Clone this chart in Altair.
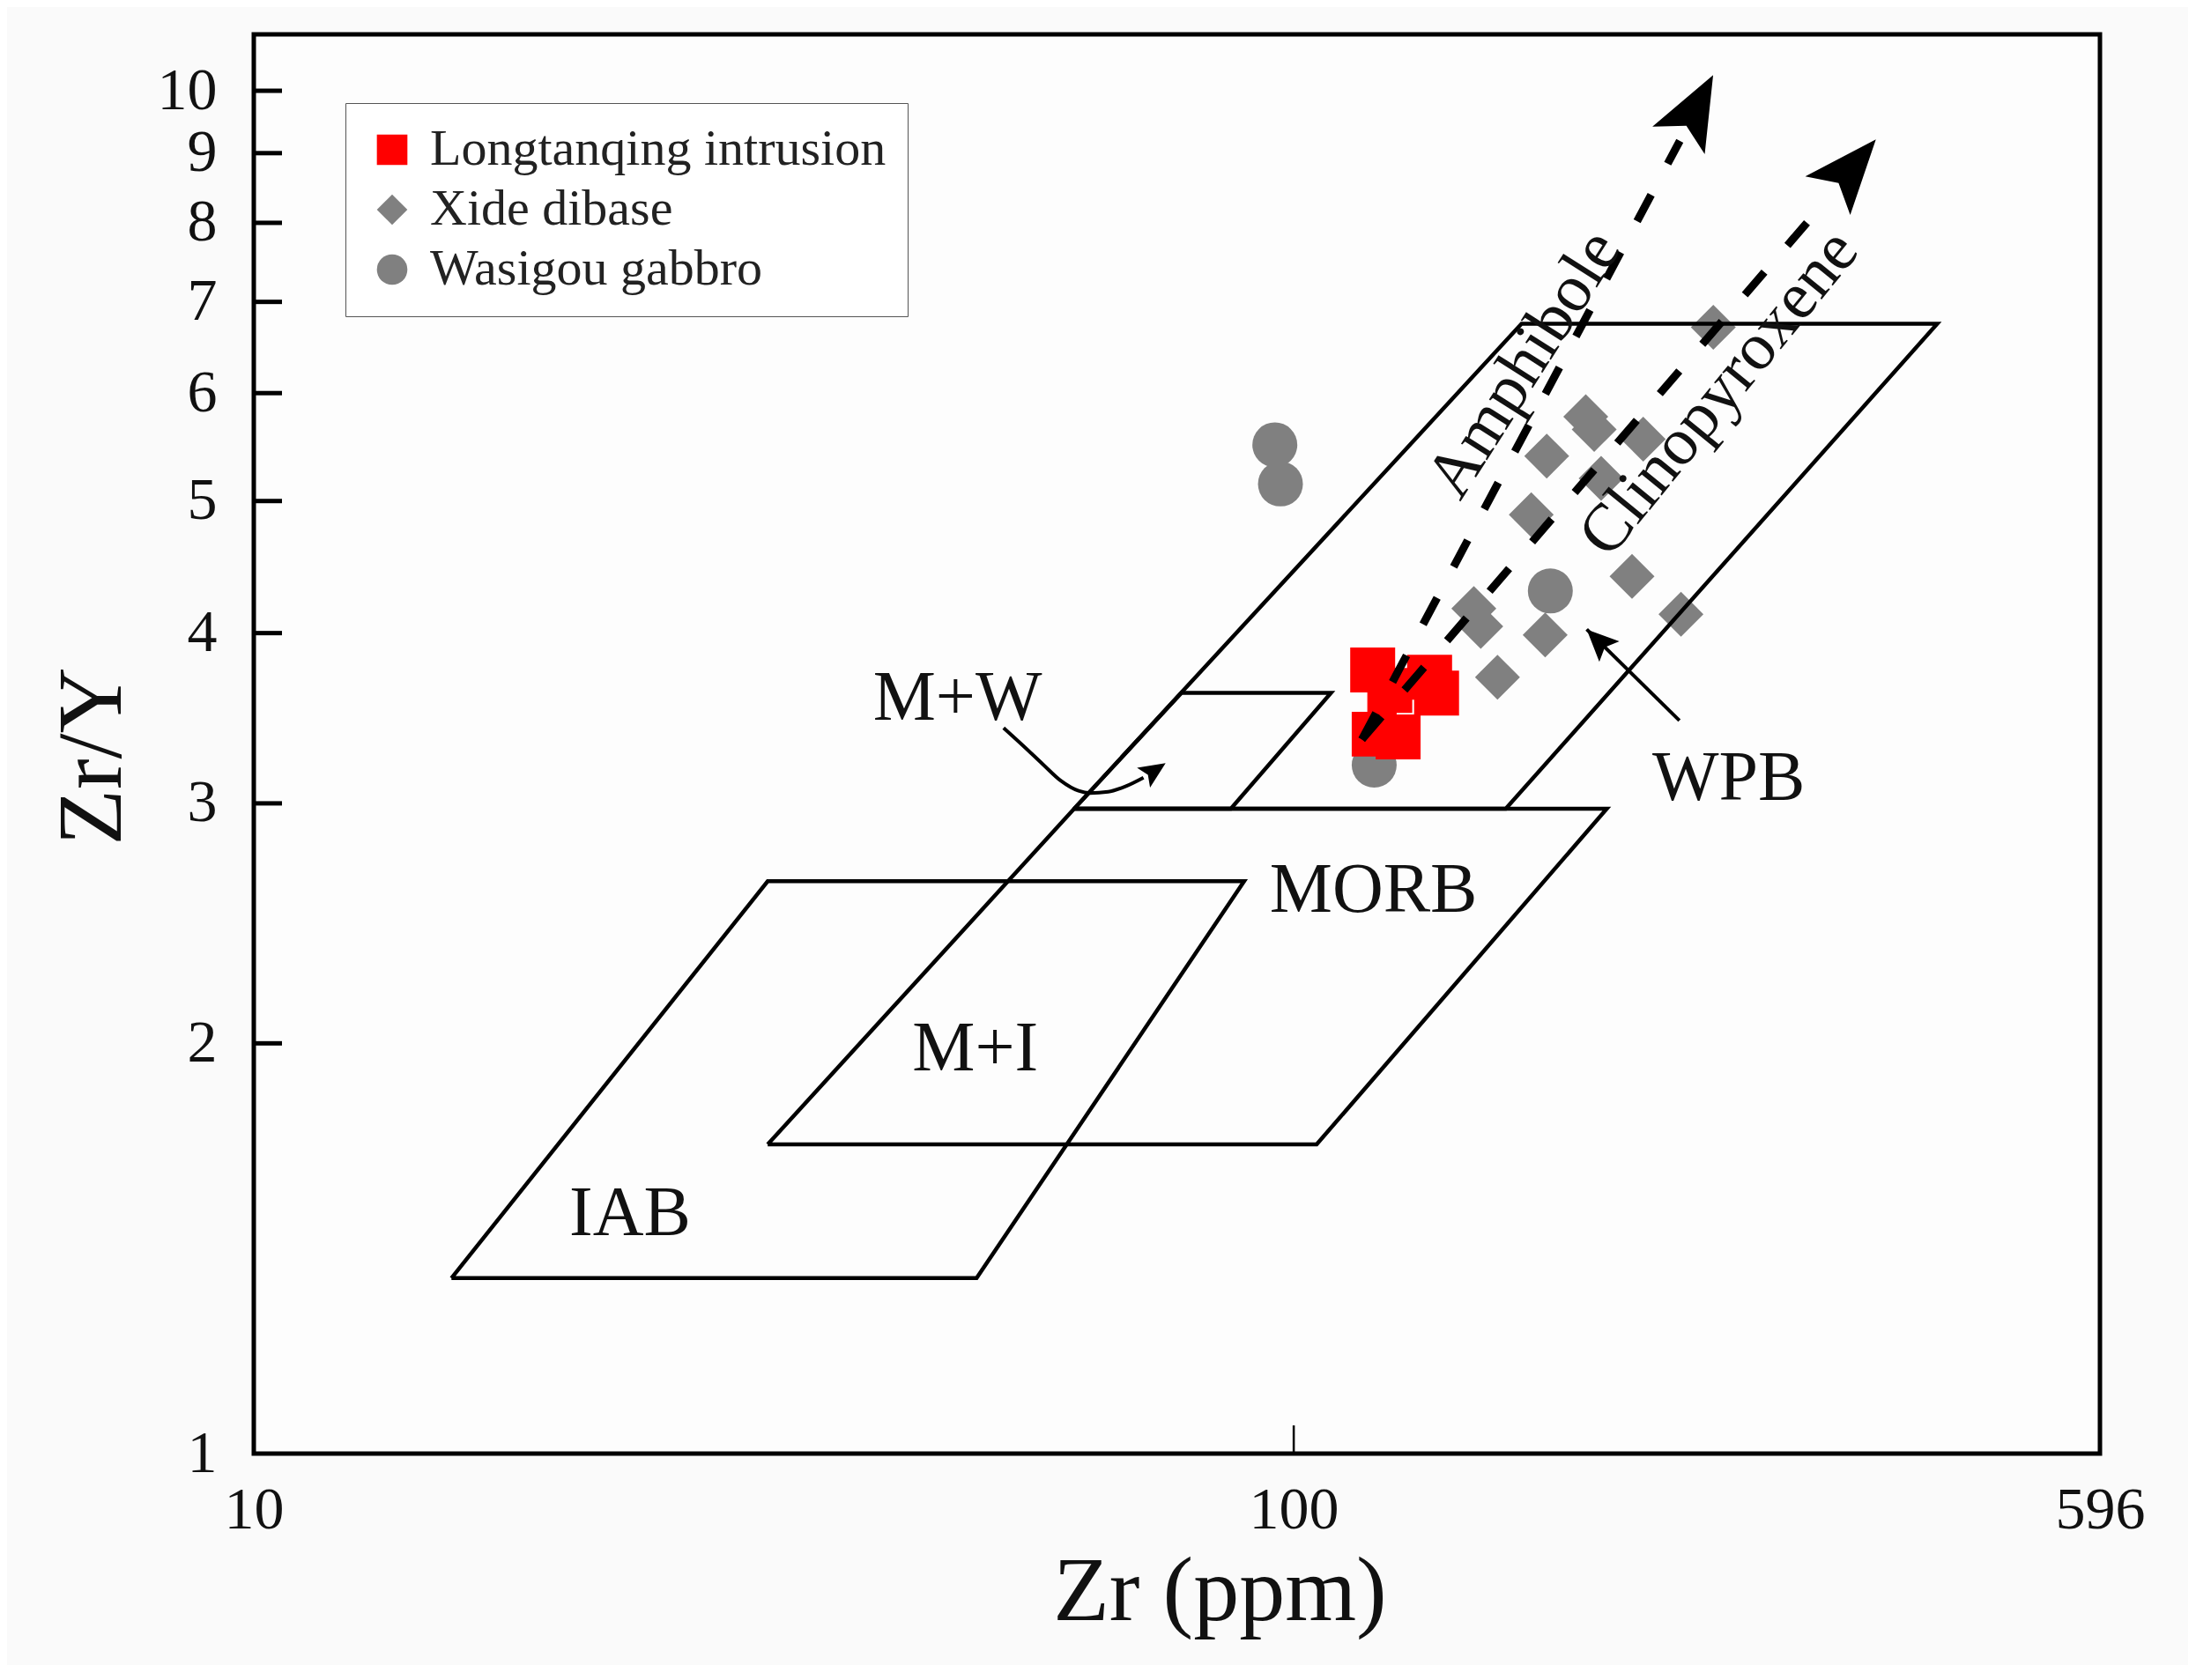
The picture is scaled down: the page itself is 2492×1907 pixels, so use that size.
import math
import altair as alt
import pandas as pd

# ---------------- data ----------------
groups = ["Longtanqing intrusion", "Xide dibase", "Wasigou gabbro"]
group_colors = ["#ff0000", "#808080", "#808080"]
group_shapes = ["square", "diamond", "circle"]

longtanqing_zr = [119.1, 123.7, 135.1, 137.2, 119.5, 126.0]
longtanqing_zry = [3.758, 3.631, 3.713, 3.614, 3.372, 3.356]

xide_zr = [253.2, 190.9, 194.5, 216.8, 175.1, 197.5, 169.2, 211.5, 235.7, 149.0, 151.3, 174.5, 157.0]
xide_zry = [6.706, 5.765, 5.643, 5.551, 5.395, 5.195, 4.886, 4.403, 4.130, 4.170, 4.045, 3.988, 3.713]

wasigou_zr = [95.9, 97.1, 176.5, 119.5]
wasigou_zry = [5.498, 5.146, 4.295, 3.200]

# discrimination fields (Pearce & Norry) - vertices
iab_zr = [15.49, 49.55, 89.6, 31.2]
iab_zry = [1.345, 1.345, 2.630, 2.630]
morb_zr = [31.2, 105.2, 200.0, 61.5]
morb_zry = [1.686, 1.686, 2.973, 2.973]
wpb_zr = [61.5, 159.9, 415.7, 165.6]
wpb_zry = [2.973, 2.973, 6.745, 6.745]
mw_zr = [61.5, 87.0, 108.6, 78.0]
mw_zry = [2.973, 2.973, 3.616, 3.616]

field_labels = ["M+W", "M+I", "IAB", "MORB", "WPB"]
field_label_zr = [47.5, 49.4, 23.0, 119.3, 261.9]
field_label_zry = [3.455, 1.910, 1.447, 2.496, 3.018]

# fractionation trends
trend_names = ["Amphibole", "Clinopyroxene"]
trend_start_zr = [116.3, 116.3]
trend_start_zry = [3.342, 3.342]
trend_end_zr = [235.1, 326.9]
trend_end_zry = [9.19, 8.35]
trend_tip_zr = [253.1, 362.9]
trend_tip_zry = [10.27, 9.21]
trend_label_zr = [166.5, 256.4]
trend_label_zry = [6.30, 6.00]

# M+W curved pointer
mw_curve_zr = [52.6, 54.9, 57.4, 59.7, 62.1, 63.7, 66.3, 68.9, 71.7]
mw_curve_zry = [3.408, 3.308, 3.204, 3.117, 3.064, 3.053, 3.059, 3.087, 3.133]
mw_tip_zr = [75.3]
mw_tip_zry = [3.211]

# WPB pointer
wpb_ptr_start_zr = [234.9]
wpb_ptr_start_zry = [3.451]
wpb_ptr_tip_zr = [191.3]
wpb_ptr_tip_zry = [4.025]

x_ticks = [10, 100, 596]
y_ticks = [1, 2, 3, 4, 5, 6, 7, 8, 9, 10]
X_DOMAIN = [10, 596]
Y_DOMAIN = [1, 11]

# ---------------- layout ----------------
W, H = 2095, 1611
FONT = "Liberation Serif"
INK = "#111111"


def screen_angle(x1, y1, x2, y2):
    dx = math.log10(x2 / x1) / math.log10(X_DOMAIN[1] / X_DOMAIN[0]) * W
    dy_up = math.log10(y2 / y1) / math.log10(Y_DOMAIN[1] / Y_DOMAIN[0]) * H
    return math.degrees(math.atan2(dx, dy_up)) % 360


xs = alt.Scale(type="log", domain=X_DOMAIN, nice=False, zero=False)
ys = alt.Scale(type="log", domain=Y_DOMAIN, nice=False, zero=False)

x_axis = alt.Axis(
    values=x_ticks, format="d", title="Zr (ppm)", labelPadding=30,
    labelFlush=False, labelOverlap=False, titleX=1096, titleY=188,
    titleBaseline="alphabetic", titleAlign="center")
y_axis = alt.Axis(
    values=y_ticks, format="d", title="Zr/Y", labelPadding=42,
    labelOverlap=False, titleAngle=270, titleX=-152, titleY=819,
    titleBaseline="alphabetic", titleAlign="center")


def X(field):
    return alt.X(field, scale=xs, axis=x_axis, title="Zr (ppm)")


def Y(field):
    return alt.Y(field, scale=ys, axis=y_axis, title="Zr/Y")


# points table
rows = []
for g, zr, zry in [(groups[2], wasigou_zr, wasigou_zry),
                   (groups[1], xide_zr, xide_zry),
                   (groups[0], longtanqing_zr, longtanqing_zry)]:
    for a, b in zip(zr, zry):
        rows.append({"group": g, "zr": a, "zry": b})
pts = pd.DataFrame(rows)

legend = alt.Legend(
    title=None, orient="none", legendX=104, legendY=78, direction="vertical",
    labelFont=FONT, labelFontSize=58, labelColor="#222222", labelLimit=900,
    symbolSize=1200, symbolStrokeWidth=0, labelOffset=14,
    padding=24, rowPadding=10, strokeColor="#555555", fillColor="#ffffff",
)

points = alt.Chart(pts).mark_point(filled=True, size=2600, opacity=1, strokeWidth=0).encode(
    x=X("zr:Q"),
    y=Y("zry:Q"),
    color=alt.Color("group:N", scale=alt.Scale(domain=groups, range=group_colors), legend=legend),
    shape=alt.Shape("group:N", scale=alt.Scale(domain=groups, range=group_shapes), legend=legend),
)

# polygons
prow = []
for name, zr, zry in [("IAB", iab_zr, iab_zry), ("MORB", morb_zr, morb_zry),
                      ("WPB", wpb_zr, wpb_zry), ("M+W", mw_zr, mw_zry)]:
    for i, (a, b) in enumerate(list(zip(zr, zry)) + [(zr[0], zry[0])]):
        prow.append({"field": name, "idx": i, "zr": a, "zry": b})
poly_df = pd.DataFrame(prow)

polys = alt.Chart(poly_df).mark_line(color="black", strokeWidth=4.5, strokeJoin="miter").encode(
    x=X("zr:Q"), y=Y("zry:Q"), detail="field:N", order="idx:Q",
)

# inward ticks
ytick = alt.Chart(pd.DataFrame({"v": y_ticks[1:]})).mark_rule(color="black", strokeWidth=5).encode(
    y=Y("v:Q"), x=alt.value(0), x2=alt.value(32))
xtick = alt.Chart(pd.DataFrame({"v": [100]})).mark_rule(color="black", strokeWidth=2.5).encode(
    x=X("v:Q"), y=alt.value(H), y2=alt.value(H - 32))

# trends
trend_df = pd.DataFrame({
    "name": trend_names,
    "x1": trend_start_zr, "y1": trend_start_zry,
    "x2": trend_end_zr, "y2": trend_end_zry,
    "tx": trend_tip_zr, "ty": trend_tip_zry,
    "ang": [screen_angle(a, b, c, d) for a, b, c, d in
            zip(trend_start_zr, trend_start_zry, trend_tip_zr, trend_tip_zry)],
})
trend_lines = alt.Chart(trend_df).mark_rule(color="black", strokeWidth=9, strokeDash=[34, 40]).encode(
    x=X("x1:Q"), y=Y("y1:Q"), x2="x2:Q", y2="y2:Q")

BIG_ARROW = "M0,0 L0.8,2 L0,1.55 L-0.8,2 Z"
SMALL_ARROW = "M0,0 L0.9,2 L0,1.6 L-0.9,2 Z"

trend_heads = alt.Chart(trend_df).mark_point(shape=BIG_ARROW, filled=True, color="black",
                                             size=7056, opacity=1, strokeWidth=0).encode(
    x=X("tx:Q"), y=Y("ty:Q"), angle=alt.Angle("ang:Q", scale=None))

amph_text = alt.Chart(pd.DataFrame({"t": [trend_names[0]], "x": [trend_label_zr[0]], "y": [trend_label_zry[0]]})).mark_text(
    font=FONT, fontSize=76, color=INK, angle=302.5, align="center", baseline="middle").encode(
    x=X("x:Q"), y=Y("y:Q"), text="t:N")
cpx_text = alt.Chart(pd.DataFrame({"t": [trend_names[1]], "x": [trend_label_zr[1]], "y": [trend_label_zry[1]]})).mark_text(
    font=FONT, fontSize=76, color=INK, angle=309.2, align="center", baseline="middle").encode(
    x=X("x:Q"), y=Y("y:Q"), text="t:N")

# field labels
flab = alt.Chart(pd.DataFrame({"t": field_labels, "x": field_label_zr, "y": field_label_zry})).mark_text(
    font=FONT, fontSize=80, color=INK, align="center", baseline="alphabetic").encode(
    x=X("x:Q"), y=Y("y:Q"), text="t:N")

# M+W curved pointer
mw_df = pd.DataFrame({"x": mw_curve_zr, "y": mw_curve_zry, "i": list(range(len(mw_curve_zr)))})
mw_curve = alt.Chart(mw_df).mark_line(color="black", strokeWidth=4, interpolate="monotone").encode(
    x=X("x:Q"), y=Y("y:Q"), order="i:Q")
mw_head = alt.Chart(pd.DataFrame({
    "x": mw_tip_zr, "y": mw_tip_zry,
    "ang": [screen_angle(mw_curve_zr[-1], mw_curve_zry[-1], mw_tip_zr[0], mw_tip_zry[0])]})).mark_point(
    shape=SMALL_ARROW, filled=True, color="black", size=900, opacity=1, strokeWidth=0).encode(
    x=X("x:Q"), y=Y("y:Q"), angle=alt.Angle("ang:Q", scale=None))

# WPB pointer
wp_df = pd.DataFrame({"x1": wpb_ptr_start_zr, "y1": wpb_ptr_start_zry,
                      "x2": wpb_ptr_tip_zr, "y2": wpb_ptr_tip_zry,
                      "ang": [screen_angle(wpb_ptr_start_zr[0], wpb_ptr_start_zry[0],
                                           wpb_ptr_tip_zr[0], wpb_ptr_tip_zry[0])]})
wp_line = alt.Chart(wp_df).mark_rule(color="black", strokeWidth=4).encode(
    x=X("x1:Q"), y=Y("y1:Q"), x2="x2:Q", y2="y2:Q")
wp_head = alt.Chart(wp_df).mark_point(shape=SMALL_ARROW, filled=True, color="black",
                                      size=1296, opacity=1, strokeWidth=0).encode(
    x=X("x2:Q"), y=Y("y2:Q"), angle=alt.Angle("ang:Q", scale=None))

chart = alt.layer(
    points, polys, ytick, xtick, trend_lines, trend_heads, amph_text, cpx_text,
    flab, mw_curve, mw_head, wp_line, wp_head,
).properties(
    width=W, height=H,
    autosize=alt.AutoSizeParams(type="none"),
    padding={"left": 280, "top": 31, "right": 100, "bottom": 240},
    background="#fafafa",
).configure_view(
    stroke="black", strokeWidth=5, fill="#fdfdfd",
).configure_axis(
    grid=False, domain=False, ticks=False,
    labelFont=FONT, labelFontSize=68, labelColor=INK,
    titleFont=FONT, titleFontSize=104, titleFontWeight="normal", titleColor=INK,
)

chart.save("out.html", embed_options={"renderer": "svg", "actions": False})
